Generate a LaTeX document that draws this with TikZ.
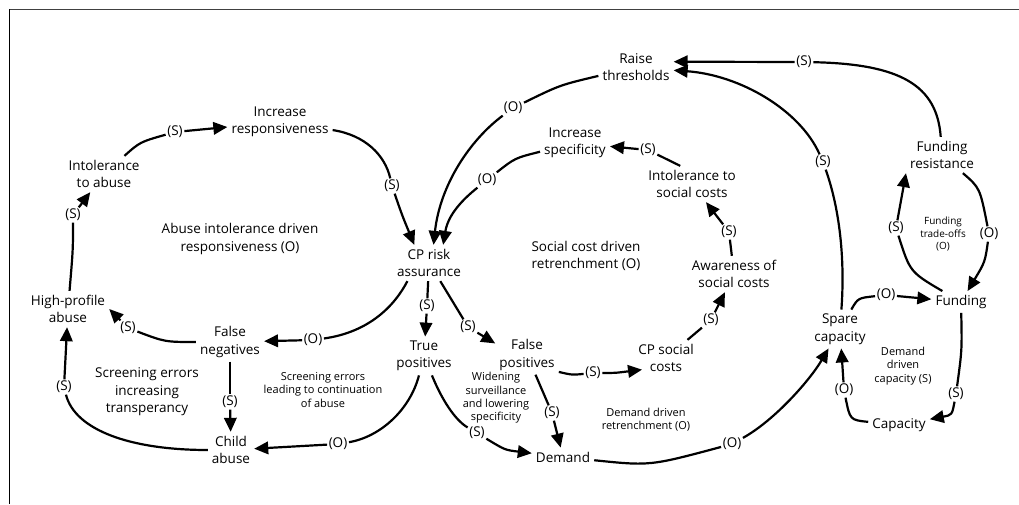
\documentclass[tikz,border=0pt]{standalone}
\usepackage{fontspec}
\setmainfont{Open Sans}
\usetikzlibrary{arrows.meta}
\newcommand{\myfmain}{\fontsize{13.5}{17.5}\selectfont}
\newcommand{\myfsmall}{\fontsize{11}{13.3}\selectfont}
\newcommand{\myftiny}{\fontsize{10}{12.5}\selectfont}
\tikzset{
  var/.style={font=\myfmain, align=center, inner sep=4pt},
  lab/.style={font=\myfmain, inner sep=1.5pt},
  note/.style={font=\myfmain, align=center, inner sep=0pt},
  smallnote/.style={font=\myfsmall, align=center, inner sep=0pt},
  tinynote/.style={font=\myftiny, align=center, inner sep=0pt},
  link/.style={line width=2.2pt},
  arr/.style={link, -{Triangle[length=14pt,width=12.5pt]}},
}
\begin{document}
\begin{tikzpicture}[x=1pt,y=-1pt]
\useasboundingbox (0,0) rectangle (1019,504);
% frame
\draw[line width=1.5pt, black!75] (9,9.5) -- (1019,9.5);
\draw[line width=0.8pt] (9.5,9) -- (9.5,504);

% variables
\node[var] (incr)  at (280,122) {Increase\\responsiveness};
\node[var] (int1)  at (104,174) {Intolerance\\to abuse};
\node[var] (hp)    at (68,309)  {High-profile\\abuse};
\node[var] (fn)    at (230,342) {False\\negatives};
\node[var] (ch)    at (231,450) {Child\\abuse};
\node[var] (cp)    at (429,263) {CP risk\\assurance};
\node[var] (raise) at (636,67)  {Raise\\thresholds};
\node[var] (spec)  at (575,143) {Increase\\specificity};
\node[var] (isc)   at (692,184) {Intolerance to\\social costs};
\node[var] (aw)    at (734,274) {Awareness of\\social costs};
\node[var] (tp)    at (424,356) {True\\positives};
\node[var] (fp)    at (527,355) {False\\positives};
\node[var] (cps)   at (666,358) {CP social\\costs};
\node[var] (dem)   at (563,457) {Demand};
\node[var] (spare) at (840,329) {Spare\\capacity};
\node[var] (fund)  at (961,302) {Funding};
\node[var] (cap)   at (899,425) {Capacity};
\node[var] (fres)  at (942,155) {Funding\\resistance};

% loop notes
\node[note] (n1) at (240,239) {Abuse intolerance driven\\responsiveness (O)};
\node[note] (n2) at (147,392) {Screening errors\\increasing\\transperancy};
\node[smallnote] (n3) at (323,390) {Screening errors\\leading to continuation\\of abuse};
\node[note] (n4) at (586,256) {Social cost driven\\retrenchment (O)};
\node[smallnote] (n5) at (496,398) {Widening\\surveillance\\and lowering\\specificity};
\node[smallnote] (n6) at (646,420) {Demand driven\\retrenchment (O)};
\node[smallnote] (n7) at (903,366) {Demand\\driven\\capacity (S)};
\node[tinynote] (n8) at (943,234) {Funding\\trade-offs\\(O)};

% polarity labels
\node[lab] (s1)  at (175,132) {(S)};
\node[lab] (s2)  at (392,186) {(S)};
\node[lab] (o3)  at (513,108) {(O)};
\node[lab] (o4)  at (487,180) {(O)};
\node[lab] (s5)  at (73,215)  {(S)};
\node[lab] (s6)  at (128,328) {(S)};
\node[lab] (o7)  at (313,340) {(O)};
\node[lab] (s8)  at (230,402) {(S)};
\node[lab] (s9)  at (64,387)  {(S)};
\node[lab] (o10) at (338,444) {(O)};
\node[lab] (s11) at (427,306) {(S)};
\node[lab] (s12) at (468,327) {(S)};
\node[lab] (s13) at (477,433) {(S)};
\node[lab] (s14) at (552,413) {(S)};
\node[lab] (s15) at (593,373) {(S)};
\node[lab] (s16) at (711,320) {(S)};
\node[lab] (s17) at (729,232) {(S)};
\node[lab] (s18) at (648,150) {(S)};
\node[lab] (o19) at (732,444) {(O)};
\node[lab] (s20) at (823,162) {(S)};
\node[lab] (s21) at (804,62)  {(S)};
\node[lab] (s22) at (896,228) {(S)};
\node[lab] (o23) at (989,234) {(O)};
\node[lab] (o24) at (886,295) {(O)};
\node[lab] (s25) at (956,394) {(S)};
\node[lab] (o26) at (844,390) {(O)};

% connectors
\draw[link] (int1) .. controls (140,142) .. (s1);
\draw[arr] (s1) -- (incr);
\draw[link] (incr) .. controls (365,135) and (385,155) .. (s2);
\draw[arr] (s2) .. controls (402,215) .. (cp.129);
\draw[link] (raise) .. controls (560,85) .. (o3);
\draw[arr] (o3) .. controls (470,140) and (440,185) .. (cp.76);
\draw[link] (spec) .. controls (515,158) .. (o4);
\draw[arr] (o4) .. controls (462,200) and (448,215) .. (cp.52);

\draw[link] (hp) .. controls (73,250) .. (s5);
\draw[arr] (s5) -- (int1);
\draw[link] (fn) .. controls (165,342) .. (s6);
\draw[arr] (s6) -- (hp.east);
\draw[link] (cp.220) .. controls (395,305) and (370,332) .. (o7);
\draw[arr] (o7) -- (fn);
\draw[link] (fn) -- (s8);
\draw[arr] (s8) -- (ch);
\draw[link] (ch) .. controls (130,450) and (75,430) .. (s9);
\draw[arr] (s9) -- (hp);
\draw[link] (tp) .. controls (410,410) and (380,437) .. (o10);
\draw[arr] (o10) -- (ch);

\draw[link] (cp) -- (s11);
\draw[arr] (s11) -- (tp);
\draw[link] (cp) .. controls (452,300) .. (s12);
\draw[arr] (s12) -- (fp.160);
\draw[link] (tp) .. controls (442,400) and (455,420) .. (s13);
\draw[arr] (s13) .. controls (505,450) .. (dem);
\draw[link] (fp) -- (s14);
\draw[arr] (s14) -- (dem);
\draw[link] (fp.-28) .. controls (572,375) .. (s15);
\draw[arr] (s15) .. controls (615,373) .. ([xshift=8pt]cps.-160);
\draw[link] (cps) -- (s16);
\draw[arr] (s16) -- (aw);
\draw[link] (aw) -- (s17);
\draw[arr] (s17) -- (isc);
\draw[link] (isc.123) -- (s18);
\draw[arr] (s18) -- (spec);

\draw[link] (dem) .. controls (650,466) .. (o19);
\draw[arr] (o19) .. controls (775,420) and (810,380) .. (spare);
\draw[link] (spare) .. controls (845,260) and (840,210) .. (s20);
\draw[arr] (s20) .. controls (800,110) and (740,75) .. (raise.-5);
\draw[link] (fres) .. controls (937,85) and (900,64) .. (s21);
\draw[arr] (s21) -- (raise.8);
\draw[link] (fund) .. controls (910,272) .. (s22);
\draw[arr] (s22) -- (fres.south west);
\draw[link] (fres) .. controls (980,188) .. (o23);
\draw[arr] (o23) .. controls (985,262) .. (fund);
\draw[link] (spare) .. controls (858,298) .. (o24);
\draw[arr] (o24) -- (fund);
\draw[link] (fund) .. controls (962,350) .. (s25);
\draw[arr] (s25) .. controls (952,415) .. (cap);
\draw[link] (cap) .. controls (850,420) .. (o26);
\draw[arr] (o26) -- (spare);
\end{tikzpicture}
\end{document}
